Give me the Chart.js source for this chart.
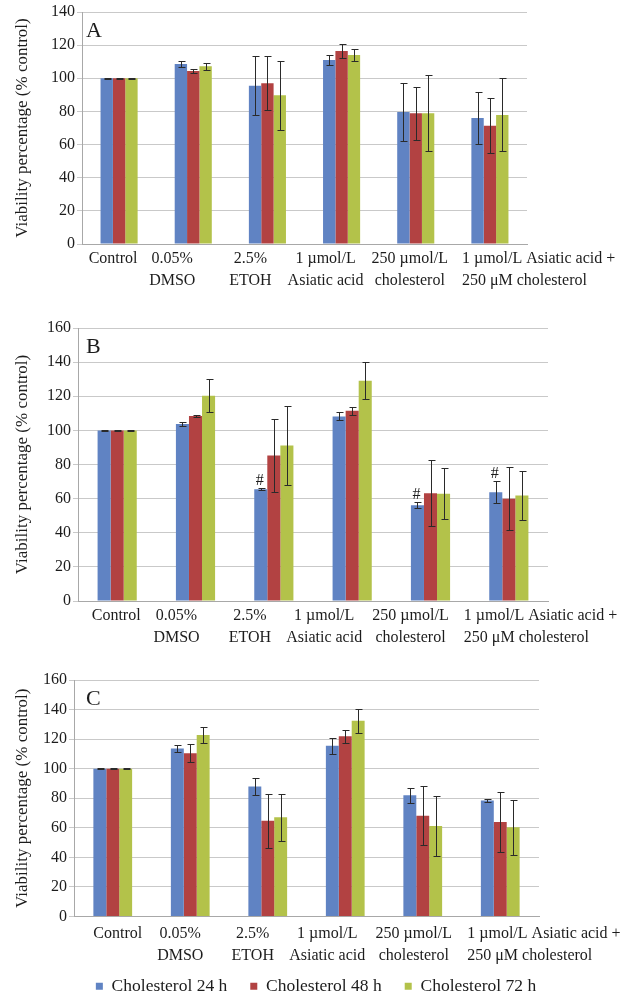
<!DOCTYPE html>
<html>
<head>
<meta charset="utf-8">
<script src="https://cdn.jsdelivr.net/npm/chart.js@4.4.1/dist/chart.umd.min.js"></script>
<style>
  html, body { margin: 0; padding: 0; background: #ffffff; }
  body { width: 632px; height: 997px; position: relative; overflow: hidden; }
  .panel { position: absolute; left: 0; width: 632px; }
</style>
</head>
<body>
<div class="panel" style="top:0px;height:300px"><canvas id="chartA"></canvas></div>
<div class="panel" style="top:316px;height:340px"><canvas id="chartB"></canvas></div>
<div class="panel" style="top:668px;height:337px"><canvas id="chartC"></canvas></div>
<script>
// Treatment groups (each label split into its printed lines)
const categories = [
  ['Control'],
  ['0.05%', 'DMSO'],
  ['2.5%', 'ETOH'],
  ['1 µmol/L', 'Asiatic acid'],
  ['250 µmol/L', 'cholesterol'],
  ['1 µmol/L Asiatic acid +', '250 μM cholesterol']
];
const seriesNames = ['Cholesterol 24 h', 'Cholesterol 48 h', 'Cholesterol 72 h'];

// y-axis tick labels
const yTicksA = [0, 20, 40, 60, 80, 100, 120, 140];
const yTicksBC = [0, 20, 40, 60, 80, 100, 120, 140, 160];

// Panel A: mean viability (% control) and error
const meanA24 = [100, 108.6, 95.5, 111.0, 79.7, 76.0];
const meanA48 = [100, 104.4, 97.0, 116.5, 78.9, 71.4];
const meanA72 = [100, 107.2, 89.7, 114.0, 78.9, 77.9];
const errA24 = [0.2, 2.0, 17.8, 2.8, 17.7, 15.8];
const errA48 = [0.2, 1.5, 16.2, 4.2, 16.0, 16.7];
const errA72 = [0.2, 2.2, 21.0, 3.7, 23.0, 22.0];

// Panel B
const meanB24 = [100, 103.7, 65.5, 108.2, 56.1, 63.8];
const meanB48 = [100, 108.4, 85.3, 111.5, 63.2, 60.0];
const meanB72 = [100, 120.3, 91.1, 129.1, 62.8, 61.8];
const errB24 = [0.2, 1.4, 0.6, 2.4, 1.7, 6.3];
const errB48 = [0.2, 0.6, 21.5, 2.2, 19.5, 18.5];
const errB72 = [0.2, 9.7, 23.3, 10.8, 14.9, 14.2];
// groups flagged with "#" on the 24 h bar
const sigB24 = [false, false, true, false, true, true];

// Panel C
const meanC24 = [100, 113.6, 87.9, 115.6, 82.0, 78.4];
const meanC48 = [100, 110.4, 64.8, 121.9, 68.2, 63.9];
const meanC72 = [100, 122.8, 67.1, 132.4, 61.2, 60.3];
const errC24 = [0.2, 2.6, 5.9, 5.4, 4.9, 0.8];
const errC48 = [0.2, 6.1, 18.4, 4.3, 20.0, 20.3];
const errC72 = [0.2, 5.4, 15.7, 8.2, 20.0, 18.6];

const COLORS = ['#6083c3', '#b24242', '#b3c24a'];
const SERIF = '"Liberation Serif", "Times New Roman", serif';
const INK = '#1c1c1c';

// Draws error bars, "#" markers, the panel letter and the wrapped category labels
const panelDecor = {
  id: 'panelDecor',
  afterDatasetsDraw(chart, args, opts) {
    const ctx = chart.ctx;
    const ys = chart.scales.y;
    ctx.save();
    ctx.strokeStyle = '#2a2a2a';
    ctx.lineWidth = 1;
    ctx.fillStyle = INK;
    ctx.font = '16px ' + SERIF;
    ctx.textAlign = 'center';
    ctx.textBaseline = 'alphabetic';
    chart.data.datasets.forEach((ds, di) => {
      const meta = chart.getDatasetMeta(di);
      meta.data.forEach((bar, i) => {
        const v = ds.data[i], e = ds.errors[i];
        const x = Math.round(bar.x) + 0.5;
        const yt = Math.round(ys.getPixelForValue(v + e)) + 0.5;
        const yb = Math.round(ys.getPixelForValue(v - e)) + 0.5;
        ctx.beginPath();
        ctx.moveTo(x, yt); ctx.lineTo(x, yb);
        ctx.moveTo(x - 3, yt); ctx.lineTo(x + 4, yt);
        ctx.moveTo(x - 3, yb); ctx.lineTo(x + 4, yb);
        ctx.stroke();
        if (ds.marks && ds.marks[i]) {
          ctx.fillText('#', bar.x - 1, yt - 4);
        }
      });
    });
    ctx.restore();
  },
  afterDraw(chart, args, opts) {
    const ctx = chart.ctx;
    const area = chart.chartArea;
    const xs = chart.scales.x;
    ctx.save();
    ctx.fillStyle = INK;
    // panel letter
    ctx.font = '22px ' + SERIF;
    ctx.textAlign = 'left';
    ctx.textBaseline = 'alphabetic';
    ctx.fillText(opts.letter, area.left + opts.letterDx, area.top + 25);
    // category labels
    ctx.font = '16px ' + SERIF;
    categories.forEach((lines, i) => {
      const cx = xs.getPixelForValue(i) + opts.labelShift[i];
      const last = i === categories.length - 1;
      ctx.textAlign = last ? 'left' : 'center';
      lines.forEach((t, k) => {
        ctx.fillText(t, cx, area.bottom + opts.labelBase + k * 22);
      });
    });
    ctx.restore();
  }
};

function buildDatasets(means, errs, marks) {
  return seriesNames.map((name, k) => ({
    label: name,
    data: means[k],
    errors: errs[k],
    marks: marks ? marks[k] : null,
    backgroundColor: COLORS[k],
    borderWidth: 0,
    categoryPercentage: 0.5,
    barPercentage: 1.0
  }));
}

function makePanel(id, cfg) {
  return new Chart(document.getElementById(id), {
    type: 'bar',
    data: {
      labels: categories.map(c => c.join(' ')),
      datasets: buildDatasets(cfg.means, cfg.errs, cfg.marks)
    },
    options: {
      responsive: true,
      maintainAspectRatio: false,
      animation: false,
      layout: { padding: { top: 12, right: 0, bottom: 0, left: 0 } },
      plugins: {
        tooltip: { enabled: false },
        legend: cfg.legend ? {
          display: true,
          position: 'bottom',
          align: 'center',
          labels: {
            boxWidth: 7, boxHeight: 7, padding: 23,
            color: INK,
            font: { family: SERIF, size: 17.5 }
          }
        } : { display: false },
        panelDecor: {
          letter: cfg.letter,
          letterDx: cfg.letterDx,
          labelShift: cfg.labelShift,
          labelBase: cfg.labelBase
        }
      },
      scales: {
        x: {
          grid: { display: false, drawTicks: false },
          border: { color: '#a8a8a8' },
          ticks: { display: false },
          afterFit: s => { s.height = cfg.xHeight; }
        },
        y: {
          min: cfg.yTicks[0],
          max: cfg.yTicks[cfg.yTicks.length - 1],
          ticks: {
            stepSize: cfg.yTicks[1] - cfg.yTicks[0],
            color: INK,
            padding: 2,
            font: { family: SERIF, size: 16 }
          },
          grid: { color: '#c9c9c9', tickLength: 5 },
          border: { color: '#a8a8a8' },
          title: {
            display: true,
            text: 'Viability percentage (% control)',
            color: INK,
            font: { family: SERIF, size: 17 },
            padding: { top: 12, bottom: 0 }
          },
          afterFit: s => { s.width = cfg.left; }
        },
        // empty right-hand margin (keeps the legend centred on the full width)
        margin: {
          type: 'linear',
          position: 'right',
          display: true,
          grid: { display: false, drawTicks: false },
          border: { display: false },
          ticks: { display: false },
          afterFit: s => { s.width = cfg.right; }
        }
      }
    },
    plugins: [panelDecor]
  });
}

makePanel('chartA', {
  letter: 'A', letterDx: 4,
  means: [meanA24, meanA48, meanA72], errs: [errA24, errA48, errA72],
  yTicks: yTicksA, left: 82, right: 105, xHeight: 56, labelBase: 19,
  labelShift: [-6, -21, -17, -16, -6, -28]
});
makePanel('chartB', {
  letter: 'B', letterDx: 8,
  means: [meanB24, meanB48, meanB72], errs: [errB24, errB48, errB72],
  marks: [sigB24, null, null],
  yTicks: yTicksBC, left: 78, right: 84, xHeight: 55, labelBase: 19,
  labelShift: [-1, -19, -24, -28, -20, -45]
});
makePanel('chartC', {
  letter: 'C', letterDx: 12, legend: true,
  means: [meanC24, meanC48, meanC72], errs: [errC24, errC48, errC72],
  yTicks: yTicksBC, left: 74, right: 93, xHeight: 38, labelBase: 21,
  labelShift: [5, -10, -15, -18, -9, -33]
});
</script>
</body>
</html>
